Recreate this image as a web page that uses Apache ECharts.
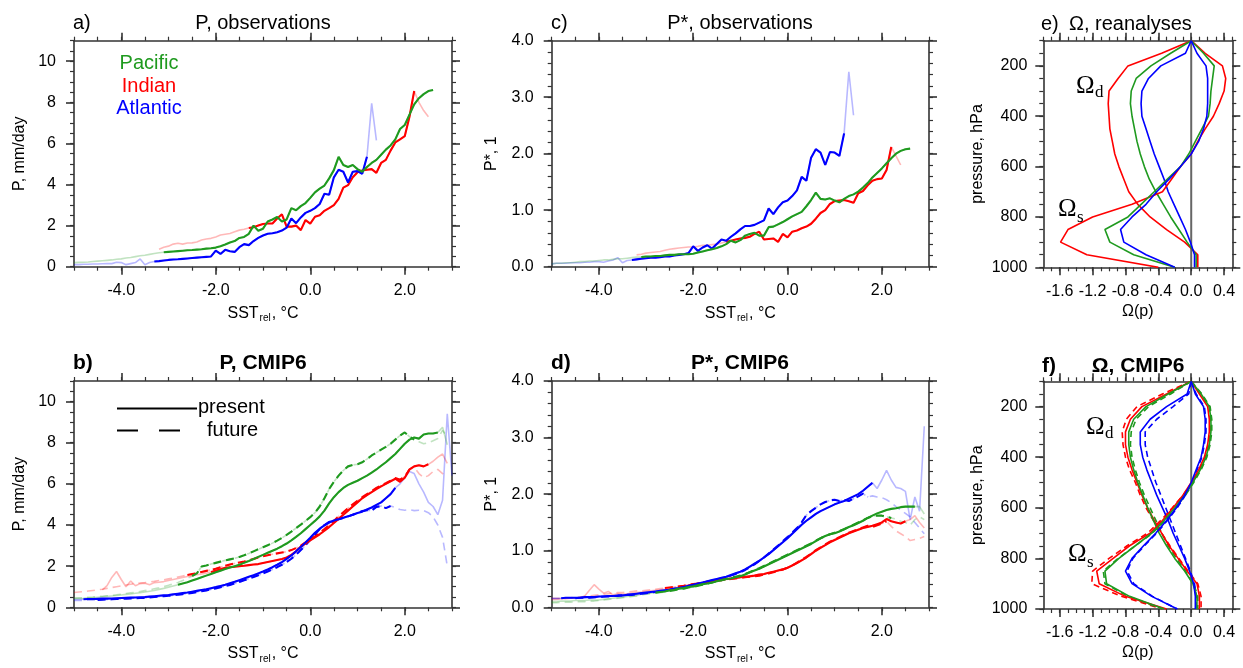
<!DOCTYPE html>
<html><head><meta charset="utf-8">
<script src="https://cdn.jsdelivr.net/npm/echarts@6/dist/echarts.min.js"></script>
<style>html,body{margin:0;padding:0;background:#fff}#c{width:1243px;height:668px}</style>
</head><body><div id="c"></div><script>
// ---------- data ----------
const sst = [-5.0,-4.9,-4.8,-4.7,-4.6,-4.5,-4.4,-4.3,-4.2,-4.1,
 -4.0,-3.9,-3.8,-3.7,-3.6,-3.5,-3.4,-3.3,-3.2,-3.1,
 -3.0,-2.9,-2.8,-2.7,-2.6,-2.5,-2.4,-2.3,-2.2,-2.1,
 -2.0,-1.9,-1.8,-1.7,-1.6,-1.5,-1.4,-1.3,-1.2,-1.1,
 -1.0,-0.9,-0.8,-0.7,-0.6,-0.5,-0.4,-0.3,-0.2,-0.1,
 0.0,0.1,0.2,0.3,0.4,0.5,0.6,0.7,0.8,0.9,
 1.0,1.1,1.2,1.3,1.4,1.5,1.6,1.7,1.8,1.9,
 2.0,2.1,2.2,2.3,2.4,2.5,2.6,2.7,2.8,2.9,
 3.0];
const N = null;
// a) P observations
const pacObsP = [0.20,0.21,0.22,0.23,0.25,0.27,0.29,0.31,0.33,0.36,
 0.38,0.42,0.45,0.49,0.53,0.56,0.60,0.64,0.68,0.70,
 0.72,0.74,0.76,0.78,0.80,0.81,0.83,0.85,0.88,0.90,
 0.93,1.00,1.08,1.18,1.25,1.40,1.45,1.60,2.00,1.75,
 1.85,2.20,2.30,2.42,2.20,2.30,2.85,2.75,2.95,3.10,
 3.35,3.62,3.80,3.95,4.30,4.70,5.35,4.95,4.85,4.95,
 4.75,4.62,4.85,5.05,5.20,5.45,5.70,5.90,6.20,6.70,
 6.90,7.40,7.90,8.20,8.40,8.55,8.60,N,N,N,
 N];
const indObsP = [N,N,N,N,N,N,N,N,N,N,
 N,N,N,N,N,N,N,N,0.85,0.95,
 1.00,1.10,1.14,1.10,1.15,1.16,1.20,1.30,1.35,1.38,
 1.45,1.54,1.58,1.62,1.70,1.78,1.82,1.88,1.92,2.00,
 2.08,2.10,2.10,2.35,2.55,1.95,1.95,2.00,1.78,2.27,
 2.10,2.43,2.50,2.72,2.85,3.00,3.30,3.85,3.97,4.35,
 4.60,4.68,4.72,4.75,4.57,5.05,5.20,5.65,6.05,6.20,
 6.35,7.30,8.55,8.00,7.60,7.30,N,N,N,N,
 N];
const atlObsP = [0.10,0.10,0.12,0.12,0.13,0.13,0.14,0.15,0.15,0.22,
 0.20,0.10,0.15,0.20,0.38,0.10,0.20,0.25,0.27,0.30,
 0.33,0.35,0.36,0.38,0.40,0.42,0.44,0.46,0.48,0.50,
 0.78,0.62,0.82,0.75,0.72,0.95,1.10,1.05,1.25,1.40,
 1.52,1.60,1.63,1.68,1.76,1.90,2.35,2.12,2.40,2.62,
 2.72,2.85,3.05,3.55,3.50,4.35,4.72,4.62,4.10,4.62,
 4.65,4.52,5.35,7.95,6.15,N,N,N,N,N,
 N,N,N,N,N,N,N,N,N,N,
 N];
// c) P* observations
const pacObsPs = [0.05,0.06,0.06,0.07,0.07,0.08,0.09,0.09,0.10,0.10,
 0.11,0.12,0.12,0.13,0.14,0.14,0.15,0.16,0.17,0.17,
 0.18,0.18,0.19,0.19,0.20,0.21,0.21,0.22,0.22,0.22,
 0.23,0.25,0.27,0.29,0.31,0.33,0.36,0.40,0.46,0.43,
 0.47,0.55,0.58,0.60,0.55,0.55,0.70,0.71,0.75,0.79,
 0.84,0.89,0.93,0.97,1.07,1.18,1.31,1.20,1.19,1.21,
 1.17,1.14,1.20,1.25,1.28,1.33,1.40,1.48,1.58,1.66,
 1.74,1.83,1.92,2.00,2.05,2.08,2.09,N,N,N,
 N];
const indObsPs = [N,N,N,N,N,N,N,N,N,N,
 N,N,N,N,N,N,N,N,0.21,0.22,
 0.24,0.25,0.26,0.27,0.29,0.31,0.32,0.33,0.34,0.35,
 0.35,0.36,0.38,0.38,0.39,0.40,0.42,0.44,0.46,0.48,
 0.50,0.51,0.53,0.58,0.62,0.48,0.49,0.50,0.44,0.58,
 0.52,0.62,0.64,0.68,0.71,0.76,0.85,0.95,1.00,1.11,
 1.16,1.17,1.18,1.16,1.13,1.30,1.34,1.44,1.52,1.55,
 1.56,1.71,2.12,1.96,1.80,N,N,N,N,N,
 N];
const atlObsPs = [0.05,0.06,0.06,0.06,0.07,0.07,0.07,0.08,0.08,0.09,
 0.09,0.08,0.10,0.12,0.16,0.07,0.11,0.12,0.13,0.14,
 0.15,0.16,0.16,0.17,0.18,0.18,0.20,0.21,0.22,0.24,
 0.36,0.28,0.34,0.38,0.32,0.40,0.48,0.46,0.53,0.59,
 0.66,0.72,0.72,0.74,0.78,0.82,1.03,0.93,1.05,1.14,
 1.17,1.25,1.35,1.59,1.52,1.93,2.08,2.02,1.80,2.03,
 2.02,1.96,2.36,3.45,2.68,N,N,N,N,N,
 N,N,N,N,N,N,N,N,N,N,
 N];
// b) P CMIP6 (present / future)
const pacPresP = [0.42,0.43,0.44,0.46,0.47,0.49,0.51,0.53,0.55,0.57,
 0.60,0.63,0.65,0.68,0.71,0.74,0.78,0.82,0.87,0.92,
 0.98,1.04,1.10,1.16,1.22,1.30,1.38,1.46,1.54,1.62,
 1.70,1.78,1.86,1.93,2.00,2.07,2.16,2.25,2.35,2.45,
 2.55,2.65,2.75,2.85,2.97,3.10,3.25,3.42,3.60,3.80,
 4.00,4.20,4.42,4.70,5.05,5.35,5.60,5.80,5.95,6.05,
 6.15,6.28,6.40,6.55,6.70,6.88,7.05,7.25,7.45,7.70,
 7.95,8.15,8.25,8.20,8.40,8.45,8.45,8.50,8.75,7.90,
 N];
const pacFutP = [0.45,0.46,0.47,0.49,0.50,0.52,0.54,0.56,0.58,0.61,
 0.64,0.67,0.70,0.73,0.77,0.81,0.85,0.90,0.95,1.01,
 1.07,1.14,1.21,1.30,1.40,1.52,1.65,1.98,2.03,2.10,
 2.16,2.22,2.28,2.33,2.38,2.45,2.53,2.62,2.72,2.82,
 2.92,3.02,3.12,3.24,3.37,3.52,3.68,3.85,4.02,4.20,
 4.38,4.60,4.90,5.30,5.75,6.10,6.40,6.65,6.85,6.92,
 6.95,7.05,7.20,7.38,7.52,7.66,7.80,7.95,8.15,8.35,
 8.50,8.30,8.15,8.05,7.95,8.00,8.10,8.20,8.60,8.30,
 N];
const indPresP = [N,N,N,N,N,N,0.85,1.05,1.45,1.74,
 1.35,1.00,1.28,1.05,1.15,1.17,1.10,1.20,1.22,1.25,
 1.30,1.35,1.40,1.45,1.50,1.55,1.58,1.62,1.66,1.72,
 1.78,1.85,1.92,1.95,1.97,2.00,2.02,2.05,2.08,2.10,
 2.15,2.20,2.25,2.30,2.35,2.42,2.55,2.72,2.95,3.10,
 3.25,3.40,3.55,3.72,3.90,4.10,4.30,4.50,4.70,4.90,
 5.10,5.30,5.45,5.60,5.75,5.88,6.00,6.12,6.25,6.10,
 6.30,6.70,6.85,6.90,6.85,6.95,7.10,7.30,7.45,7.00,
 N];
const indFutP = [0.72,0.74,0.76,0.79,0.82,0.85,0.88,0.92,0.96,1.00,
 1.04,1.08,1.12,1.15,1.18,1.20,1.23,1.26,1.30,1.34,
 1.38,1.42,1.47,1.52,1.57,1.62,1.66,1.72,1.77,1.82,
 1.87,1.95,2.02,2.08,2.13,2.18,2.22,2.28,2.35,2.42,
 2.48,2.53,2.58,2.62,2.66,2.70,2.78,2.88,3.00,3.15,
 3.30,3.45,3.62,3.80,4.00,4.20,4.42,4.62,4.82,5.00,
 5.18,5.35,5.50,5.65,5.80,5.92,6.03,6.15,6.28,6.20,
 6.35,6.70,6.80,6.50,6.30,6.40,6.60,6.70,6.50,6.40,
 N];
const atlPresP = [0.38,0.38,0.39,0.40,0.40,0.41,0.42,0.42,0.43,0.44,
 0.45,0.46,0.47,0.48,0.49,0.50,0.52,0.54,0.56,0.58,
 0.60,0.63,0.66,0.69,0.72,0.76,0.80,0.84,0.88,0.93,
 0.98,1.04,1.10,1.17,1.24,1.32,1.40,1.48,1.56,1.65,
 1.74,1.84,1.95,2.07,2.20,2.35,2.52,2.72,2.93,3.15,
 3.38,3.62,3.82,3.98,4.12,4.22,4.28,4.35,4.42,4.50,
 4.58,4.65,4.75,4.85,4.98,5.10,5.30,5.50,5.80,6.00,
 6.30,6.60,6.50,6.00,5.60,5.10,4.90,4.50,5.20,9.40,
 6.40];
const atlFutP = [0.33,0.33,0.34,0.34,0.35,0.36,0.37,0.38,0.39,0.40,
 0.41,0.42,0.43,0.44,0.45,0.46,0.48,0.50,0.52,0.54,
 0.56,0.58,0.61,0.64,0.67,0.70,0.74,0.78,0.82,0.87,
 0.92,0.97,1.03,1.09,1.16,1.23,1.31,1.39,1.47,1.56,
 1.65,1.74,1.84,1.95,2.07,2.20,2.36,2.55,2.78,3.02,
 3.28,3.55,3.80,4.00,4.15,4.22,4.28,4.35,4.42,4.50,
 4.58,4.68,4.72,4.70,4.88,4.92,4.82,4.92,4.85,4.75,
 4.72,4.75,4.70,4.72,4.70,4.60,4.40,4.00,3.40,2.00,
 N];
// d) P* CMIP6
const pacPresPs = [0.10,0.10,0.11,0.11,0.11,0.12,0.12,0.12,0.13,0.13,
 0.13,0.14,0.15,0.16,0.17,0.18,0.19,0.20,0.21,0.23,
 0.24,0.25,0.26,0.27,0.28,0.30,0.31,0.33,0.34,0.36,
 0.37,0.39,0.41,0.42,0.44,0.46,0.48,0.50,0.51,0.53,
 0.55,0.58,0.62,0.65,0.68,0.72,0.76,0.80,0.84,0.88,
 0.92,0.96,1.00,1.04,1.08,1.12,1.17,1.22,1.26,1.29,
 1.31,1.34,1.38,1.42,1.45,1.49,1.53,1.58,1.62,1.66,
 1.69,1.72,1.74,1.75,1.77,1.78,1.78,1.78,1.78,1.65,
 N];
const pacFutPs = [0.08,0.08,0.09,0.09,0.09,0.10,0.10,0.10,0.11,0.11,
 0.12,0.13,0.14,0.15,0.16,0.17,0.18,0.19,0.20,0.22,
 0.23,0.24,0.25,0.26,0.27,0.29,0.30,0.32,0.33,0.35,
 0.36,0.38,0.40,0.42,0.44,0.46,0.48,0.50,0.52,0.54,
 0.56,0.59,0.62,0.66,0.69,0.73,0.77,0.81,0.85,0.89,
 0.93,0.97,1.01,1.05,1.09,1.13,1.18,1.22,1.26,1.29,
 1.32,1.35,1.38,1.42,1.46,1.50,1.54,1.58,1.61,1.62,
 1.62,1.60,1.58,1.56,1.52,1.50,1.45,1.55,1.60,1.55,
 N];
const indPresPs = [0.14,0.14,0.15,0.15,0.16,0.16,0.17,0.20,0.30,0.40,
 0.32,0.25,0.28,0.22,0.24,0.23,0.24,0.25,0.26,0.27,
 0.28,0.29,0.30,0.31,0.32,0.33,0.34,0.36,0.37,0.39,
 0.40,0.42,0.43,0.45,0.46,0.47,0.49,0.50,0.51,0.52,
 0.53,0.54,0.55,0.56,0.58,0.59,0.61,0.63,0.65,0.67,
 0.70,0.74,0.78,0.83,0.88,0.94,1.00,1.05,1.10,1.15,
 1.19,1.23,1.27,1.31,1.34,1.37,1.40,1.42,1.44,1.47,
 1.50,1.56,1.52,1.50,1.48,1.52,1.55,1.62,1.50,1.40,
 N];
const indFutPs = [0.16,0.16,0.16,0.17,0.17,0.18,0.18,0.19,0.20,0.21,
 0.22,0.23,0.24,0.25,0.26,0.26,0.27,0.28,0.29,0.29,
 0.30,0.31,0.32,0.33,0.34,0.35,0.36,0.37,0.38,0.40,
 0.41,0.42,0.44,0.45,0.46,0.47,0.48,0.49,0.50,0.51,
 0.52,0.53,0.54,0.55,0.56,0.58,0.60,0.62,0.64,0.67,
 0.70,0.74,0.79,0.84,0.89,0.95,1.01,1.06,1.11,1.16,
 1.20,1.24,1.28,1.32,1.35,1.38,1.41,1.44,1.42,1.45,
 1.48,1.52,1.43,1.35,1.30,1.25,1.18,1.20,1.22,1.25,
 N];
const atlPresPs = [0.16,0.16,0.16,0.17,0.17,0.17,0.17,0.18,0.18,0.18,
 0.19,0.19,0.20,0.20,0.21,0.21,0.22,0.23,0.24,0.25,
 0.26,0.27,0.28,0.29,0.30,0.31,0.33,0.34,0.36,0.38,
 0.40,0.42,0.44,0.46,0.48,0.50,0.52,0.54,0.57,0.60,
 0.63,0.67,0.72,0.77,0.82,0.88,0.94,1.01,1.08,1.15,
 1.22,1.30,1.38,1.46,1.53,1.59,1.65,1.70,1.74,1.78,
 1.82,1.85,1.88,1.92,1.96,2.00,2.06,2.13,2.20,2.10,
 2.25,2.42,2.25,2.12,2.10,2.05,1.55,1.95,1.70,3.20,
 N];
const atlFutPs = [0.15,0.15,0.15,0.16,0.16,0.16,0.17,0.17,0.17,0.18,
 0.18,0.19,0.19,0.20,0.20,0.21,0.22,0.22,0.23,0.24,
 0.25,0.26,0.27,0.28,0.29,0.31,0.32,0.34,0.35,0.37,
 0.39,0.41,0.43,0.45,0.47,0.49,0.51,0.53,0.56,0.59,
 0.62,0.66,0.71,0.76,0.82,0.88,0.95,1.02,1.09,1.17,
 1.24,1.32,1.40,1.50,1.63,1.70,1.76,1.82,1.86,1.89,
 1.90,1.88,1.90,1.88,1.92,1.96,2.01,1.95,1.97,1.95,
 1.94,1.90,1.85,1.78,1.72,1.66,1.60,1.50,1.40,1.30,
 N];
// ranges (SST_rel) where each curve is drawn at full strength
const obsSolid = {pac:[-3.1,2.6], ind:[-1.3,2.2], atl:[-3.3,1.2]};
const presSolid = {pac:[-2.8,2.7], ind:[-2.1,2.5], atl:[-4.8,1.85]};
const futSolid  = {pac:[-2.5,2.2], ind:[-2.6,2.1], atl:[-4.5,1.75]};

// e), f) vertical profiles
const plev = [100,150,200,250,300,350,400,450,500,550,600,650,700,750,800,850,900,950,1000];
const eIndOd = [0,-0.36,-0.77,-0.89,-1.00,-1.01,-1.00,-0.99,-0.96,-0.93,-0.88,-0.82,-0.76,-0.65,-0.50,-0.30,-0.08,0.08,0.08];
const ePacOd = [0,-0.25,-0.49,-0.67,-0.73,-0.74,-0.72,-0.69,-0.66,-0.62,-0.57,-0.51,-0.43,-0.34,-0.25,-0.15,-0.05,0.06,0.06];
const eAtlOd = [0,-0.07,-0.37,-0.52,-0.60,-0.61,-0.60,-0.55,-0.50,-0.45,-0.39,-0.33,-0.28,-0.21,-0.14,-0.07,-0.01,0.04,0.04];
const eIndOs = [0,0.17,0.38,0.42,0.40,0.34,0.27,0.17,0.08,0.00,-0.13,-0.24,-0.35,-0.72,-1.20,-1.50,-1.59,-1.27,-0.40];
const ePacOs = [0,0.15,0.28,0.26,0.24,0.23,0.21,0.13,0.05,-0.03,-0.13,-0.29,-0.45,-0.61,-0.77,-1.05,-0.99,-0.70,-0.20];
const eAtlOs = [0,0.07,0.18,0.20,0.20,0.20,0.19,0.15,0.09,0.00,-0.13,-0.27,-0.42,-0.55,-0.72,-0.86,-0.82,-0.55,-0.20];
const fIndOdPres = [0,-0.30,-0.60,-0.74,-0.80,-0.80,-0.77,-0.72,-0.66,-0.60,-0.53,-0.45,-0.36,-0.27,-0.16,-0.05,0.07,0.10,0.10];
const fIndOdFut  = [0,-0.35,-0.66,-0.79,-0.84,-0.83,-0.80,-0.75,-0.68,-0.62,-0.55,-0.46,-0.36,-0.26,-0.15,-0.04,0.08,0.12,0.12];
const fPacOdPres = [0,-0.28,-0.55,-0.70,-0.76,-0.76,-0.74,-0.70,-0.65,-0.59,-0.53,-0.46,-0.39,-0.30,-0.20,-0.08,0.02,0.07,0.07];
const fPacOdFut  = [0,-0.25,-0.52,-0.67,-0.73,-0.74,-0.72,-0.68,-0.63,-0.57,-0.50,-0.43,-0.36,-0.28,-0.18,-0.07,0.03,0.08,0.08];
const fAtlOdPres = [0,-0.05,-0.30,-0.50,-0.62,-0.62,-0.59,-0.54,-0.48,-0.42,-0.35,-0.28,-0.22,-0.15,-0.08,-0.02,0.03,0.05,0.05];
const fAtlOdFut  = [0,-0.03,-0.22,-0.42,-0.56,-0.56,-0.53,-0.48,-0.43,-0.37,-0.31,-0.25,-0.19,-0.13,-0.07,-0.01,0.04,0.06,0.06];
const fIndOsPres = [0,0.10,0.20,0.22,0.22,0.20,0.16,0.09,0.00,-0.10,-0.22,-0.35,-0.50,-0.75,-0.95,-1.15,-1.12,-0.80,-0.30];
const fIndOsFut  = [0,0.12,0.22,0.23,0.23,0.21,0.17,0.10,0.01,-0.10,-0.23,-0.37,-0.53,-0.78,-1.00,-1.20,-1.21,-0.85,-0.35];
const fPacOsPres = [0,0.12,0.22,0.24,0.24,0.22,0.18,0.11,0.02,-0.08,-0.20,-0.33,-0.48,-0.68,-0.88,-1.05,-1.03,-0.75,-0.33];
const fPacOsFut  = [0,0.13,0.23,0.25,0.25,0.23,0.19,0.12,0.03,-0.07,-0.19,-0.32,-0.47,-0.68,-0.89,-1.07,-1.05,-0.77,-0.35];
const fAtlOsPres = [0,0.05,0.15,0.17,0.17,0.15,0.12,0.06,0.00,-0.08,-0.18,-0.30,-0.43,-0.58,-0.72,-0.80,-0.72,-0.48,-0.17];
const fAtlOsFut  = [0,0.06,0.16,0.18,0.18,0.16,0.13,0.07,0.01,-0.07,-0.17,-0.29,-0.42,-0.57,-0.71,-0.78,-0.70,-0.47,-0.17];

// ticks
const sstMajor = [-4,-2,0,2];
const sstMinor = [-5,-4.5,-4,-3.5,-3,-2.5,-2,-1.5,-1,-0.5,0,0.5,1,1.5,2,2.5,3];
const pMajor = [0,2,4,6,8,10];
const pMinor = [0,0.5,1,1.5,2,2.5,3,3.5,4,4.5,5,5.5,6,6.5,7,7.5,8,8.5,9,9.5,10,10.5,11];
const psMajor = [0,1,2,3,4];
const psMinor = [0,0.2,0.4,0.6,0.8,1,1.2,1.4,1.6,1.8,2,2.2,2.4,2.6,2.8,3,3.2,3.4,3.6,3.8,4];
const omMajor = [-1.6,-1.2,-0.8,-0.4,0,0.4];
const omMinor = [-1.8,-1.7,-1.6,-1.5,-1.4,-1.3,-1.2,-1.1,-1.0,-0.9,-0.8,-0.7,-0.6,-0.5,-0.4,-0.3,-0.2,-0.1,0,0.1,0.2,0.3,0.4,0.5];
const prMajor = [200,400,600,800,1000];
const prMinor = [100,150,200,250,300,350,400,450,500,550,600,650,700,750,800,850,900,950,1000];

// ---------- build ----------
const FONT = '"Liberation Sans", Arial, Helvetica, sans-serif';
const SERIF = '"Liberation Serif", "Times New Roman", serif';
const AX = '#333', AW = 1.6;
const C = {pac:'#1f9a1f', ind:'#ff0000', atl:'#0000ff'};
const grids = [
  {left:74, top:40.7, width:378, height:226},
  {left:74, top:381, width:378, height:226.3},
  {left:551.7, top:40.7, width:377.3, height:226},
  {left:551.7, top:381, width:377.3, height:226.3},
  {left:1043.3, top:40.7, width:189, height:226.6},
  {left:1043.3, top:381.3, width:189, height:227.7}
];
const xAxes = [], yAxes = [], XI = [], YI = [];
const sstName = {name:'{a|SST}{b|rel}{a|, °C}', nameGap:36, nameStyle:{rich:{a:{fontSize:16,fontFamily:FONT,color:'#000'},b:{fontSize:10,fontFamily:FONT,color:'#000',padding:[11,1,0,1]}}}};
function plain(n, gap){ return {name:n, nameGap:gap, nameStyle:{fontSize:16,fontFamily:FONT,color:'#000'}}; }
function addAxes(list, idxArr, kind, g, o, nm) {
  const pos = kind==='x' ? ['bottom','top'] : ['left','right'];
  const base = {gridIndex:g, type:'value', min:o.min, max:o.max, inverse:!!o.inverse, splitLine:{show:false}};
  idxArr.push(list.length);
  list.push(Object.assign({}, base, {position:pos[0],
    axisLine:{show:true,onZero:false,lineStyle:{color:AX,width:AW}},
    axisTick:{show:true,customValues:o.major,length:8,lineStyle:{color:AX,width:AW}},
    axisLabel:{show:true,customValues:o.major,formatter:o.fmt,margin:o.margin,fontSize:16,fontFamily:FONT,color:'#000'},
    name:nm.name, nameLocation:'middle', nameGap:nm.nameGap, nameTextStyle:nm.nameStyle}));
  list.push(Object.assign({}, base, {position:pos[0], axisLine:{show:false,onZero:false},
    axisTick:{show:true,customValues:o.minor,length:4,lineStyle:{color:AX,width:1.2}}, axisLabel:{show:false}}));
  list.push(Object.assign({}, base, {position:pos[1], axisLine:{show:true,onZero:false,lineStyle:{color:AX,width:AW}},
    axisTick:{show:true,customValues:o.major,length:8,lineStyle:{color:AX,width:AW}}, axisLabel:{show:false}}));
  list.push(Object.assign({}, base, {position:pos[1], axisLine:{show:false,onZero:false},
    axisTick:{show:true,customValues:o.minor,length:4,lineStyle:{color:AX,width:1.2}}, axisLabel:{show:false}}));
}
const f1 = v => v.toFixed(1), f0 = v => String(Math.round(v));
const xSST = {min:-5,max:3,major:sstMajor,minor:sstMinor,fmt:f1,margin:16};
const xOm = {min:-1.8,max:0.5,major:omMajor,minor:omMinor,fmt:f1,margin:16};
const yP = {min:0,max:11,major:pMajor,minor:pMinor,fmt:f0,margin:18};
const yPs = {min:0,max:4,major:psMajor,minor:psMinor,fmt:f1,margin:18};
const yPr = {min:100,max:1000,inverse:true,major:prMajor,minor:prMinor,fmt:f0,margin:16};
// panels a..f
addAxes(xAxes,XI,'x',0,xSST,sstName); addAxes(yAxes,YI,'y',0,yP,plain('P, mm/day',46));
addAxes(xAxes,XI,'x',1,xSST,sstName); addAxes(yAxes,YI,'y',1,yP,plain('P, mm/day',46));
addAxes(xAxes,XI,'x',2,xSST,sstName); addAxes(yAxes,YI,'y',2,yPs,plain('P*, 1',52));
addAxes(xAxes,XI,'x',3,xSST,sstName); addAxes(yAxes,YI,'y',3,yPs,plain('P*, 1',52));
addAxes(xAxes,XI,'x',4,xOm,plain('Ω(p)',36)); addAxes(yAxes,YI,'y',4,yPr,plain('pressure, hPa',58));
addAxes(xAxes,XI,'x',5,xOm,plain('Ω(p)',36)); addAxes(yAxes,YI,'y',5,yPr,plain('pressure, hPa',58));

const series = [];
const DASH = [8,5];
function pairs(ys, lo, hi){ return sst.map((x,i)=>[x, (ys[i]==null || x<lo-1e-6 || x>hi+1e-6) ? null : ys[i]]); }
function curve(g, ys, color, dashed, rng){
  const t = dashed ? DASH : 'solid';
  series.push({type:'line', xAxisIndex:XI[g], yAxisIndex:YI[g], data:pairs(ys,-99,99), symbol:'none', silent:true, z:2,
    lineStyle:{color:color, width:1.6, opacity:0.28, type:t}});
  series.push({type:'line', xAxisIndex:XI[g], yAxisIndex:YI[g], data:pairs(ys,rng[0],rng[1]), symbol:'none', silent:true, z:3,
    lineStyle:{color:color, width:2.1, type:t}});
}
function profile(g, om, color, dashed){
  series.push({type:'line', xAxisIndex:XI[g], yAxisIndex:YI[g], data:plev.map((p,i)=>[om[i],p]), symbol:'none', silent:true, z:3,
    lineStyle:{color:color, width:1.6, type: dashed?[6,4]:'solid'}});
}
function zeroLine(g){
  series.push({type:'line', xAxisIndex:XI[g], yAxisIndex:YI[g], data:[[0,plev[0]],[0,plev[plev.length-1]]], symbol:'none', silent:true, z:2,
    lineStyle:{color:'#666', width:2}});
}
// a
curve(0, indObsP, C.ind, false, obsSolid.ind);
curve(0, atlObsP, C.atl, false, obsSolid.atl);
curve(0, pacObsP, C.pac, false, obsSolid.pac);
// b
curve(1, indFutP, C.ind, true, futSolid.ind);
curve(1, atlFutP, C.atl, true, futSolid.atl);
curve(1, pacFutP, C.pac, true, futSolid.pac);
curve(1, indPresP, C.ind, false, presSolid.ind);
curve(1, atlPresP, C.atl, false, presSolid.atl);
curve(1, pacPresP, C.pac, false, presSolid.pac);
// c
curve(2, indObsPs, C.ind, false, obsSolid.ind);
curve(2, atlObsPs, C.atl, false, obsSolid.atl);
curve(2, pacObsPs, C.pac, false, obsSolid.pac);
// d
curve(3, indFutPs, C.ind, true, futSolid.ind);
curve(3, atlFutPs, C.atl, true, futSolid.atl);
curve(3, pacFutPs, C.pac, true, futSolid.pac);
curve(3, indPresPs, C.ind, false, presSolid.ind);
curve(3, atlPresPs, C.atl, false, presSolid.atl);
curve(3, pacPresPs, C.pac, false, presSolid.pac);
// e
zeroLine(4);
profile(4, eIndOd, C.ind); profile(4, ePacOd, C.pac); profile(4, eAtlOd, C.atl);
profile(4, eIndOs, C.ind); profile(4, ePacOs, C.pac); profile(4, eAtlOs, C.atl);
// f
zeroLine(5);
profile(5, fIndOdFut, C.ind, true); profile(5, fPacOdFut, C.pac, true); profile(5, fAtlOdFut, C.atl, true);
profile(5, fIndOsFut, C.ind, true); profile(5, fPacOsFut, C.pac, true); profile(5, fAtlOsFut, C.atl, true);
profile(5, fIndOdPres, C.ind); profile(5, fPacOdPres, C.pac); profile(5, fAtlOdPres, C.atl);
profile(5, fIndOsPres, C.ind); profile(5, fPacOsPres, C.pac); profile(5, fAtlOsPres, C.atl);

// text annotations
function txt(s, x, y, font, fill, align){
  return {type:'text', x:x, y:y, silent:true, z:10,
    style:{text:s, font:font, fill:fill||'#000', align:align||'left', textAlign:align||'left', verticalAlign:'middle', textVerticalAlign:'middle'}};
}
const T20 = '20px '+FONT, T21B = 'bold 21px '+FONT;
const OM = '25px '+SERIF, SUB = '17px '+SERIF;
const graphic = [
  txt('a)', 73, 23, T20), txt('P, observations', 263, 23, T20, '#000', 'center'),
  txt('b)', 73, 363, T21B), txt('P, CMIP6', 263, 363, T21B, '#000', 'center'),
  txt('c)', 551, 23, T20), txt('P*, observations', 740, 23, T20, '#000', 'center'),
  txt('d)', 551, 363, T21B), txt('P*, CMIP6', 740, 363, T21B, '#000', 'center'),
  txt('e)', 1041, 24, T20), txt('Ω, reanalyses', 1069, 24, T20),
  txt('f)', 1042, 366, T21B), txt('Ω, CMIP6', 1138, 366, T21B, '#000', 'center'),
  txt('Pacific', 149, 63, T20, C.pac, 'center'),
  txt('Indian', 149, 86, T20, C.ind, 'center'),
  txt('Atlantic', 149, 108, T20, C.atl, 'center'),
  txt('present', 198, 407, T20), txt('future', 207, 430, T20),
  {type:'line', silent:true, z:10, shape:{x1:117,y1:408.5,x2:197,y2:408.5}, style:{stroke:'#000', lineWidth:2}},
  {type:'line', silent:true, z:10, shape:{x1:117,y1:430.5,x2:180,y2:430.5}, style:{stroke:'#000', lineWidth:2, lineDash:[21,21]}},
  txt('Ω', 1076, 86, OM), txt('d', 1095, 93, SUB),
  txt('Ω', 1058, 209, OM), txt('s', 1077, 218, SUB),
  txt('Ω', 1086, 427, OM), txt('d', 1105, 434, SUB),
  txt('Ω', 1068, 554, OM), txt('s', 1087, 563, SUB)
];

const chart = echarts.init(document.getElementById('c'), null, {renderer:'canvas'});
chart.setOption({
  animation:false, backgroundColor:'#fff',
  grid: grids.map(g=>Object.assign({containLabel:false}, g)),
  xAxis: xAxes, yAxis: yAxes, series: series, graphic: graphic
});
</script></body></html>
